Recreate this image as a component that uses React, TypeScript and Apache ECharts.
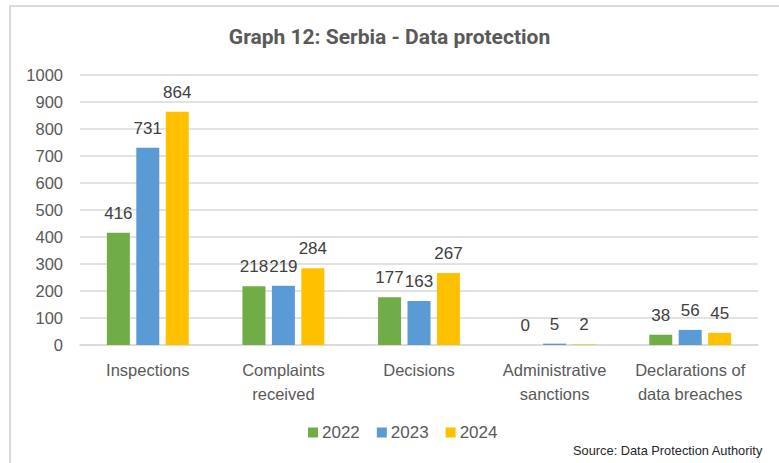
import React, { useEffect, useRef } from "react";
import * as echarts from "echarts";

const categories = ["Inspections", "Complaints\nreceived", "Decisions", "Administrative\nsanctions", "Declarations of\ndata breaches"];
const years = ["2022", "2023", "2024"];
const values2022 = [416, 218, 177, 0, 38];
const values2023 = [731, 219, 163, 5, 56];
const values2024 = [864, 284, 267, 2, 45];
const colors = ["#70AD47", "#5B9BD5", "#FFC000"];

export default function App() {
  const ref = useRef<HTMLDivElement>(null);
  useEffect(() => {
    const chart = echarts.init(ref.current!, null, { renderer: "svg" });
    const font = "'Liberation Sans', Arial, sans-serif";
    const data = [values2022, values2023, values2024];
    chart.setOption({
      animation: false,
      backgroundColor: "#ffffff",
      title: {
        text: "Graph 12: Serbia - Data protection",
        left: "center",
        top: 21,
        textStyle: { fontFamily: "Roboto, sans-serif", fontWeight: "bold", fontSize: 21, color: "#595959" },
      },
      legend: {
        data: years,
        bottom: 17,
        left: 303,
        itemWidth: 10,
        itemHeight: 10,
        itemGap: 17,
        icon: "rect",
        textStyle: { fontFamily: font, fontSize: 17, color: "#595959", padding: [0, 0, 0, -1] },
      },
      grid: { left: 80, right: 21, top: 75, bottom: 118, containLabel: false },
      xAxis: {
        type: "category",
        data: categories,
        axisLine: { lineStyle: { color: "#d9d9d9", width: 1.5 } },
        axisTick: { show: false },
        axisLabel: { fontFamily: font, fontSize: 16.5, color: "#595959", margin: 13, lineHeight: 24, interval: 0 },
      },
      yAxis: {
        type: "value",
        min: 0,
        max: 1000,
        interval: 100,
        axisLine: { show: false },
        axisTick: { show: false },
        splitLine: { lineStyle: { color: "#d9d9d9", width: 1.5 } },
        axisLabel: { fontFamily: font, fontSize: 16.5, color: "#595959", margin: 17, formatter: (v: number) => String(v) },
      },
      series: years.map((y, i) => ({
        name: y,
        type: "bar",
        data: data[i],
        barWidth: 23,
        barGap: "28%",
        itemStyle: { color: colors[i] },
        label: {
          show: true,
          position: "top",
          distance: 11,
          fontFamily: font,
          fontSize: 17,
          color: "#404040",
        },
      })),
      graphic: [
        {
          type: "rect",
          shape: { x: 10, y: 6, width: 800, height: 500 },
          style: { fill: "none", stroke: "#d9d9d9", lineWidth: 2 },
          silent: true,
        },
        {
          type: "text",
          right: 16,
          top: 444,
          style: { text: "Source: Data Protection Authority", fontFamily: font, fontSize: 12.8, fill: "#262626" },
        },
      ],
    });
    return () => chart.dispose();
  }, []);
  return <div ref={ref} style={{ position: "fixed", left: 0, top: 0, width: 779, height: 463 }} />;
}
